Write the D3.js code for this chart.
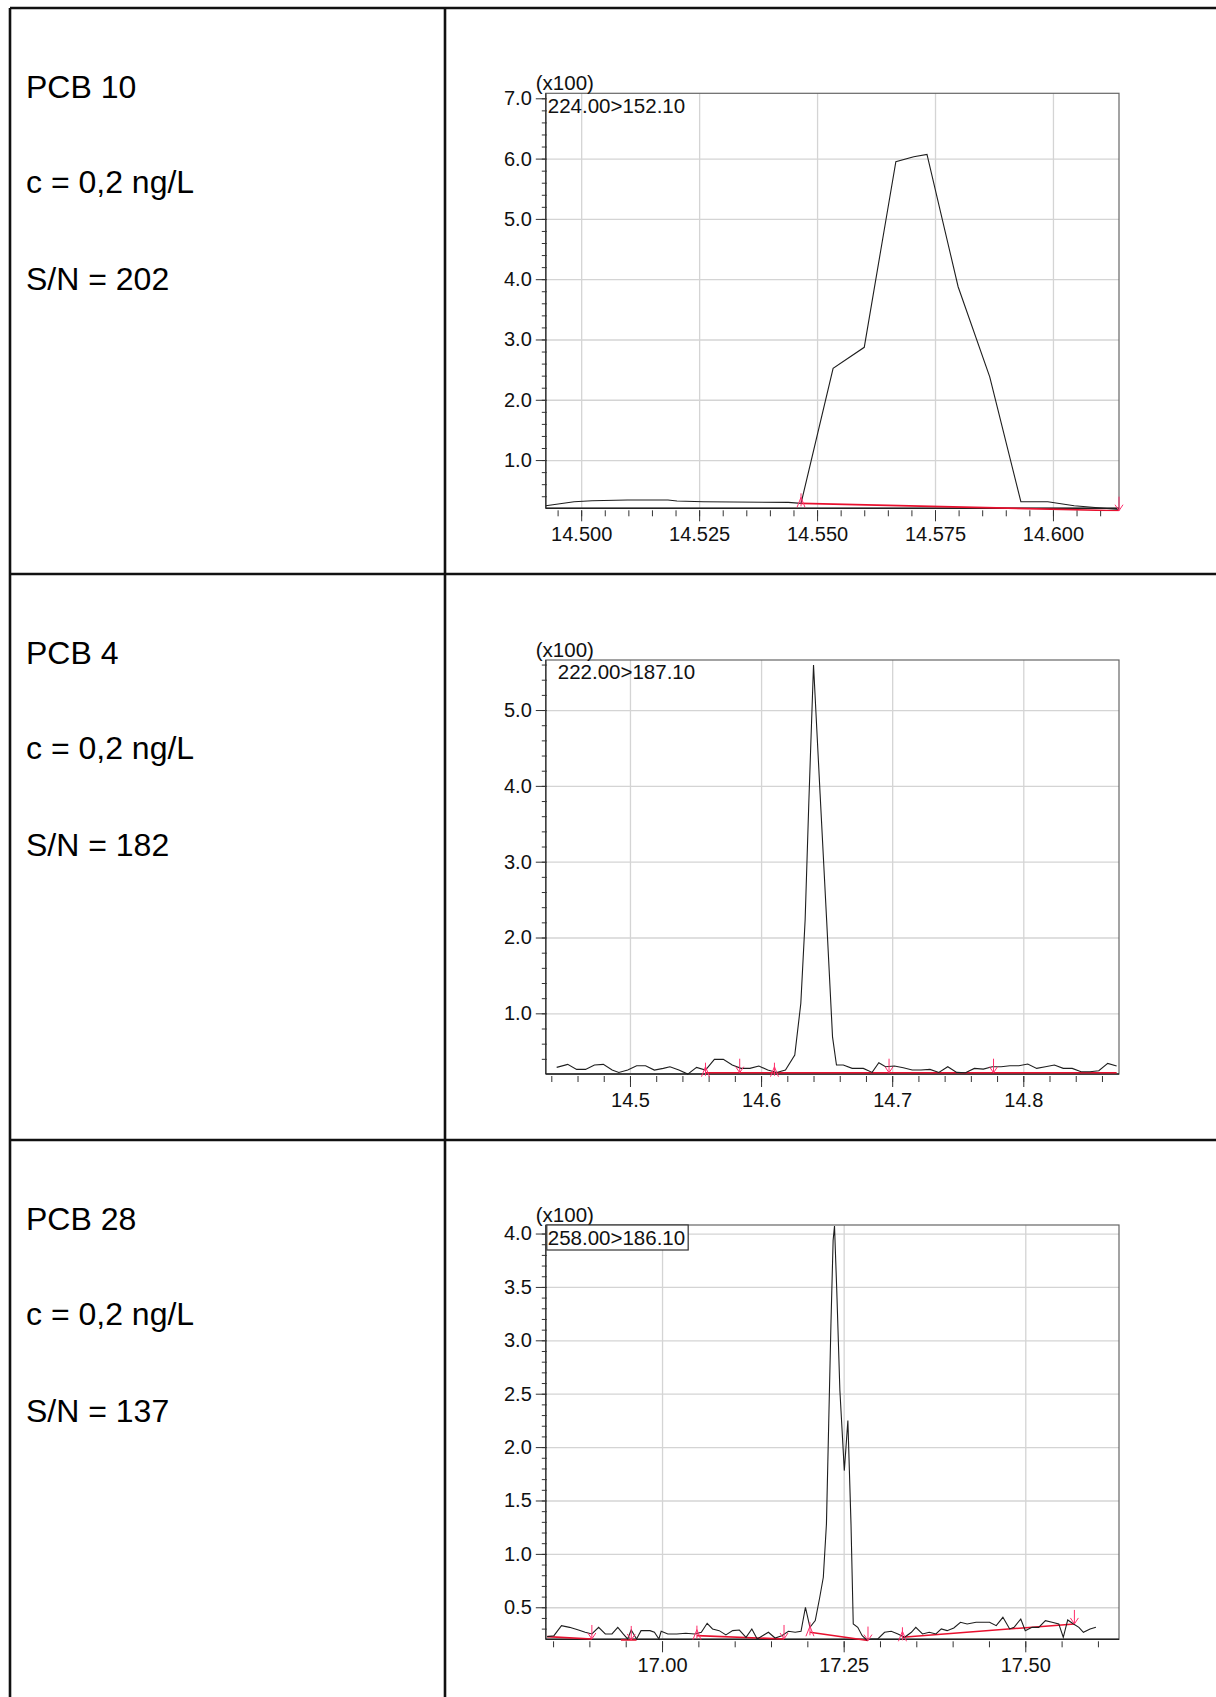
<!DOCTYPE html>
<html><head><meta charset="utf-8">
<script src="https://cdn.jsdelivr.net/npm/d3@7"></script>
<style>
html,body{margin:0;padding:0;background:#fff;}
svg{display:block;font-family:"Liberation Sans",Arial,sans-serif;}
</style></head>
<body>
<svg id="chart" width="1216" height="1697"></svg>
<script>
// ---------- DATA ----------
const compounds = ["PCB 10", "PCB 4", "PCB 28"];
const concentrations = ["c = 0,2 ng/L", "c = 0,2 ng/L", "c = 0,2 ng/L"];
const snRatios = ["S/N = 202", "S/N = 182", "S/N = 137"];
const transitions = ["224.00>152.10", "222.00>187.10", "258.00>186.10"];
const scaleNote = "(x100)";

// PCB 10 chromatogram (time min, intensity x100)
const pcb10Time = [14.4925,14.4985,14.5023,14.5098,14.5184,14.5203,14.5259,14.5439,14.5466,14.5534,14.5600,14.5667,14.5705,14.5733,14.5799,14.5866,14.5932,14.5989,14.6045,14.6140];
const pcb10Int  = [0.243,0.309,0.326,0.337,0.337,0.320,0.309,0.298,0.282,2.52,2.87,5.95,6.03,6.07,3.875,2.38,0.309,0.309,0.243,0.18];
const pcb10BaseTime = [14.5466,14.6140];
const pcb10BaseInt  = [0.282,0.16];
const pcb10MarkTime = [14.5466,14.6140];
const pcb10MarkInt  = [0.282,0.16];
const pcb10MarkDir  = ["up","down"];
const pcb10XTicks = [14.500,14.525,14.550,14.575,14.600];
const pcb10YTicks = [1.0,2.0,3.0,4.0,5.0,6.0,7.0];

// PCB 4 chromatogram
const pcb4Time = [14.4441,14.4525,14.4593,14.4661,14.4729,14.4797,14.4864,14.4915,14.4983,14.5051,14.5119,14.5186,14.5254,14.5305,14.5373,14.5441,14.5508,14.5576,14.5644,14.5712,14.5780,14.5847,14.5915,14.5983,14.6051,14.6119,14.6186,14.6257,14.6303,14.6336,14.6364,14.6400,14.6450,14.6500,14.6545,14.6575,14.6627,14.6695,14.6780,14.6847,14.6898,14.6949,14.7017,14.7085,14.7153,14.7220,14.7288,14.7356,14.7424,14.7492,14.7559,14.7627,14.7695,14.7763,14.7831,14.7898,14.7966,14.8034,14.8102,14.8169,14.8237,14.8305,14.8373,14.8441,14.8508,14.8576,14.8644,14.8712];
const pcb4Int  = [0.287,0.327,0.261,0.261,0.318,0.327,0.252,0.221,0.252,0.309,0.309,0.252,0.274,0.296,0.252,0.199,0.287,0.252,0.393,0.393,0.318,0.274,0.274,0.305,0.252,0.221,0.252,0.45,1.13,2.23,3.77,5.595,3.90,2.23,0.69,0.318,0.318,0.274,0.274,0.221,0.349,0.296,0.305,0.283,0.252,0.252,0.261,0.221,0.296,0.221,0.217,0.274,0.265,0.296,0.296,0.309,0.309,0.331,0.274,0.296,0.318,0.274,0.274,0.23,0.23,0.243,0.34,0.305];
const pcb4BaseTime = [14.5576,14.8712];
const pcb4BaseInt  = [0.217,0.217];
const pcb4MarkTime = [14.5576,14.5837,14.6102,14.6976,14.7773];
const pcb4MarkInt  = [0.217,0.217,0.217,0.217,0.217];
const pcb4MarkDir  = ["up","down","up","down","down"];
const pcb4XTicks = [14.5,14.6,14.7,14.8];
const pcb4YTicks = [1.0,2.0,3.0,4.0,5.0];

// PCB 28 chromatogram
const pcb28Time = [16.8419,16.8512,16.8616,16.8727,16.8850,16.8942,16.9034,16.9127,16.9219,16.9311,16.9391,16.9465,16.9526,16.9576,16.9649,16.9711,16.9834,16.9895,16.9957,16.9988,17.0080,17.0203,17.0326,17.0449,17.0541,17.0621,17.0695,17.0787,17.0879,17.0972,17.1064,17.1156,17.1236,17.1310,17.1384,17.1464,17.1556,17.1648,17.1740,17.1833,17.1913,17.1974,17.2036,17.2109,17.2171,17.2220,17.2263,17.2294,17.2325,17.2355,17.2374,17.2405,17.2448,17.2509,17.2558,17.2601,17.2632,17.2694,17.2755,17.2817,17.2878,17.2970,17.3063,17.3155,17.3247,17.3339,17.3432,17.3493,17.3585,17.3678,17.3770,17.3844,17.3924,17.4016,17.4108,17.4200,17.4323,17.4416,17.4508,17.4600,17.4692,17.4785,17.4846,17.4938,17.5000,17.5092,17.5185,17.5277,17.5369,17.5461,17.5523,17.5584,17.5664,17.5738,17.5800,17.5892,17.5972];
const pcb28Int  = [0.225,0.234,0.328,0.312,0.287,0.266,0.25,0.312,0.25,0.25,0.312,0.25,0.203,0.287,0.203,0.281,0.281,0.266,0.203,0.275,0.25,0.25,0.256,0.25,0.266,0.35,0.297,0.281,0.241,0.281,0.287,0.219,0.297,0.203,0.234,0.266,0.212,0.234,0.275,0.266,0.275,0.5,0.312,0.375,0.594,0.781,1.281,2.218,3.155,3.936,4.07,3.468,2.53,1.78,2.249,1.281,0.344,0.312,0.234,0.194,0.203,0.203,0.266,0.275,0.25,0.219,0.266,0.312,0.25,0.266,0.25,0.297,0.281,0.306,0.359,0.344,0.359,0.359,0.359,0.328,0.406,0.297,0.312,0.39,0.281,0.312,0.312,0.375,0.359,0.344,0.219,0.381,0.344,0.312,0.266,0.297,0.312];
const pcb28BaseTime = [[16.8419,16.9034],[16.9434,16.9649],[17.0480,17.1679],[17.2036,17.2835],[17.3309,17.5676]];
const pcb28BaseInt  = [[0.225,0.203],[0.194,0.194],[0.234,0.203],[0.266,0.188],[0.219,0.344]];
const pcb28MarkTime = [16.9034,16.9576,17.0480,17.1679,17.2036,17.2835,17.3309,17.5676];
const pcb28MarkInt  = [0.203,0.194,0.234,0.203,0.266,0.188,0.219,0.344];
const pcb28MarkDir  = ["down","down","up","down","up","down","up","down"];
const pcb28XTicks = [17.00,17.25,17.50];
const pcb28YTicks = [0.5,1.0,1.5,2.0,2.5,3.0,3.5,4.0];

// ---------- LAYOUT ----------
const svg = d3.select("#chart");
svg.append("rect").attr("width",1216).attr("height",1697).attr("fill","#fff");

const rowH = 566, rowTop = 8;
const FONT = "'Liberation Sans', Arial, sans-serif";

// table grid
const tbl = svg.append("g").attr("stroke","#111").attr("stroke-width",2.6);
tbl.append("line").attr("x1",10).attr("x2",1216).attr("y1",8).attr("y2",8);
tbl.append("line").attr("x1",10).attr("x2",10).attr("y1",8).attr("y2",1697);
tbl.append("line").attr("x1",445).attr("x2",445).attr("y1",8).attr("y2",1697);
[1,2].forEach(i=>tbl.append("line").attr("x1",10).attr("x2",1216).attr("y1",rowTop+i*rowH).attr("y2",rowTop+i*rowH));

// left text
compounds.forEach((c,i)=>{
  const g = svg.append("g").attr("transform",`translate(26,${i*rowH})`)
    .attr("font-size",32).attr("fill","#000");
  g.append("text").attr("y",98).text(c);
  g.append("text").attr("y",193).text(concentrations[i]);
  g.append("text").attr("y",290).text(snRatios[i]);
});

const zip = (a,b)=>a.map((d,i)=>[d,b[i]]);

const charts = [
  {time:pcb10Time,int:pcb10Int,base:[zip(pcb10BaseTime,pcb10BaseInt)],
   marks:pcb10MarkTime.map((t,i)=>({t,v:pcb10MarkInt[i],dir:pcb10MarkDir[i]})),
   xDom:[14.4925,14.614], yDom:[0.2,7.083], top:93.3, bottom:508.3,
   xTicks:pcb10XTicks, xMinor:[14.495,14.610,0.005], xFmt:d3.format(".3f"),
   yTicks:pcb10YTicks, yMinor:[0.4,7.0,0.2], yGrid:[1,2,3,4,5,6],
   label:transitions[0], boxed:false, labelDy:19.5},
  {time:pcb4Time,int:pcb4Int,base:[zip(pcb4BaseTime,pcb4BaseInt)],
   marks:pcb4MarkTime.map((t,i)=>({t,v:pcb4MarkInt[i],dir:pcb4MarkDir[i]})),
   xDom:[14.4358,14.873], yDom:[0.2,5.66], top:660, bottom:1074,
   xTicks:pcb4XTicks, xMinor:[14.44,14.86,0.02], xFmt:d3.format(".1f"),
   yTicks:pcb4YTicks, yMinor:[0.4,5.6,0.2], yGrid:[1,2,3,4,5],
   label:transitions[1], boxed:false, labelDy:18.5, labelDx:10},
  {time:pcb28Time,int:pcb28Int,base:pcb28BaseTime.map((t,i)=>zip(t,pcb28BaseInt[i])),
   marks:pcb28MarkTime.map((t,i)=>({t,v:pcb28MarkInt[i],dir:pcb28MarkDir[i]})),
   xDom:[16.840,17.629], yDom:[0.2,4.08], top:1225, bottom:1639.3,
   xTicks:pcb28XTicks, xMinor:[16.85,17.60,0.05], xFmt:d3.format(".2f"),
   yTicks:pcb28YTicks, yMinor:[0.3,4.0,0.1], yGrid:[0.5,1,1.5,2,2.5,3,3.5,4],
   label:transitions[2], boxed:true, labelDy:19.5}
];

const L = 545.8, R = 1119;

charts.forEach((c,ci)=>{
  const x = d3.scaleLinear().domain(c.xDom).range([L,R]);
  const y = d3.scaleLinear().domain(c.yDom).range([c.bottom,c.top]);
  const g = svg.append("g");
  const clipId = "clip"+ci;
  svg.append("clipPath").attr("id",clipId).append("rect")
    .attr("x",L).attr("y",c.top).attr("width",R-L).attr("height",c.bottom-c.top+3);

  // grid
  g.append("g").attr("transform",`translate(0,${c.bottom})`)
    .call(d3.axisBottom(x).tickValues(c.xTicks).tickSize(-(c.bottom-c.top)).tickFormat(""))
    .call(s=>{s.select(".domain").remove(); s.selectAll("line").attr("stroke","#d4d4d4").attr("stroke-width",1.3);});
  g.append("g").attr("transform",`translate(${L},0)`)
    .call(d3.axisLeft(y).tickValues(c.yGrid).tickSize(-(R-L)).tickFormat(""))
    .call(s=>{s.select(".domain").remove(); s.selectAll("line").attr("stroke","#d4d4d4").attr("stroke-width",1.3);});

  // frame
  g.append("rect").attr("x",L).attr("y",c.top).attr("width",R-L).attr("height",c.bottom-c.top)
    .attr("fill","none").attr("stroke","#666").attr("stroke-width",1.2);
  g.append("line").attr("x1",L).attr("x2",L).attr("y1",c.top).attr("y2",c.bottom).attr("stroke","#333").attr("stroke-width",1.3);
  g.append("line").attr("x1",L).attr("x2",R).attr("y1",c.bottom).attr("y2",c.bottom).attr("stroke","#222").attr("stroke-width",1.6);

  // x ticks
  const xm = d3.range(c.xMinor[0], c.xMinor[1]+c.xMinor[2]/2, c.xMinor[2]);
  g.append("g").attr("transform",`translate(0,${c.bottom+2})`)
    .call(d3.axisBottom(x).tickValues(xm).tickSize(6).tickFormat(""))
    .call(s=>{s.select(".domain").remove(); s.selectAll("line").attr("stroke","#333");});
  const xa = g.append("g").attr("transform",`translate(0,${c.bottom+2})`)
    .call(d3.axisBottom(x).tickValues(c.xTicks).tickSize(11).tickFormat(c.xFmt))
    .call(s=>{s.select(".domain").remove(); s.selectAll("line").attr("stroke","#333");});
  xa.selectAll("text").attr("font-size",20).attr("font-family",FONT).attr("fill","#111")
    .attr("y",31).attr("dy",0);

  // y ticks
  const ym = d3.range(c.yMinor[0], c.yMinor[1]+c.yMinor[2]/2, c.yMinor[2]);
  g.append("g").attr("transform",`translate(${L+1},0)`)
    .call(d3.axisLeft(y).tickValues(ym).tickSize(5).tickFormat(""))
    .call(s=>{s.select(".domain").remove(); s.selectAll("line").attr("stroke","#333");});
  const ya = g.append("g").attr("transform",`translate(${L},0)`)
    .call(d3.axisLeft(y).tickValues(c.yTicks).tickSize(10).tickPadding(4).tickFormat(d3.format(".1f")))
    .call(s=>{s.select(".domain").remove(); s.selectAll("line").attr("stroke","#333");});
  ya.selectAll("text").attr("font-size",20).attr("font-family",FONT).attr("fill","#111");

  // scale note
  g.append("text").attr("x",L-10).attr("y",c.top-3).attr("font-size",20.5).attr("fill","#111").text(scaleNote);

  // baselines
  const line = d3.line().x(d=>x(d[0])).y(d=>y(d[1]));
  const pg = g.append("g").attr("clip-path",`url(#${clipId})`);
  c.base.forEach(b=>pg.append("path").attr("d",line(b)).attr("fill","none").attr("stroke","#e8102e").attr("stroke-width",1.6));

  // chromatogram
  pg.append("path").attr("d",line(zip(c.time,c.int))).attr("fill","none").attr("stroke","#1e1e1e").attr("stroke-width",1.1);

  // peak markers
  c.marks.forEach(m=>{
    const px = x(m.t), py = y(m.v);
    const mg = g.append("g").attr("transform",`translate(${px},${py})`).attr("stroke","#ff2d6a").attr("fill","none").attr("stroke-width",1);
    if(m.dir==="down"){
      mg.append("path").attr("d","M0,-14 L0,0 M-4,-6 L0,0 L4,-6");
    } else {
      mg.append("path").attr("d","M0,-10 L0,3 M-4,4 L0,-6 L4,4");
    }
  });

  // transition label
  const lx = L + 2 + (c.labelDx||0);
  if(c.boxed){
    const box = g.append("rect").attr("x",L+1).attr("y",c.top).attr("height",25)
      .attr("fill","#fff").attr("stroke","#333").attr("stroke-width",1.2);
    const lt = g.append("text").attr("x",lx).attr("y",c.top+c.labelDy).attr("font-size",20.5).attr("fill","#111").text(c.label);
    box.attr("width", lt.node().getComputedTextLength()+4);
  } else {
    g.append("text").attr("x",lx).attr("y",c.top+c.labelDy).attr("font-size",20.5).attr("fill","#111").text(c.label);
  }
});
</script>
</body></html>
